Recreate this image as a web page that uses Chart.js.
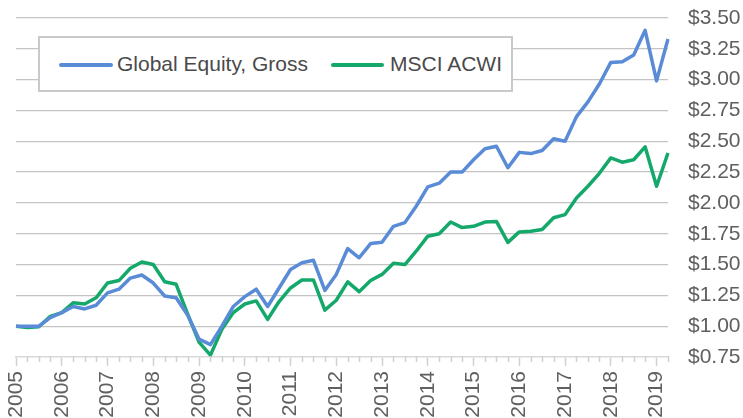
<!DOCTYPE html>
<html>
<head>
<meta charset="utf-8">
<script src="https://cdn.jsdelivr.net/npm/chart.js@4.4.1/dist/chart.umd.min.js"></script>
<style>
  html, body { margin: 0; padding: 0; background: #ffffff; }
  #wrap { position: relative; width: 743px; height: 418px; overflow: hidden; }
  canvas { display: block; }
  #legend {
    position: absolute; left: 38px; top: 36px; width: 471px; height: 52px;
    border: 2px solid #c9c9c9; background: #ffffff; box-sizing: content-box;
    font-family: "Liberation Sans", Arial, sans-serif; font-size: 21px; color: #4a4a4a;
  }
  .item { position: absolute; top: 0; height: 52px; line-height: 52px; white-space: nowrap; }
  .swatch { position: absolute; top: 25px; height: 4px; border-radius: 2px; }
</style>
</head>
<body>
<div id="wrap">
  <canvas id="c" width="743" height="418"></canvas>
  <div id="legend">
    <span class="swatch" id="sw0" style="left:19px;width:54px;"></span>
    <span class="item" id="lb0" style="left:77px;"></span>
    <span class="swatch" id="sw1" style="left:291px;width:53px;"></span>
    <span class="item" id="lb1" style="left:350px;"></span>
  </div>
</div>
<script>
// ---- data ----
const quarters = [
  "Q1 2005","Q2 2005","Q3 2005","Q4 2005",
  "Q1 2006","Q2 2006","Q3 2006","Q4 2006",
  "Q1 2007","Q2 2007","Q3 2007","Q4 2007",
  "Q1 2008","Q2 2008","Q3 2008","Q4 2008",
  "Q1 2009","Q2 2009","Q3 2009","Q4 2009",
  "Q1 2010","Q2 2010","Q3 2010","Q4 2010",
  "Q1 2011","Q2 2011","Q3 2011","Q4 2011",
  "Q1 2012","Q2 2012","Q3 2012","Q4 2012",
  "Q1 2013","Q2 2013","Q3 2013","Q4 2013",
  "Q1 2014","Q2 2014","Q3 2014","Q4 2014",
  "Q1 2015","Q2 2015","Q3 2015","Q4 2015",
  "Q1 2016","Q2 2016","Q3 2016","Q4 2016",
  "Q1 2017","Q2 2017","Q3 2017","Q4 2017",
  "Q1 2018","Q2 2018","Q3 2018","Q4 2018",
  "Q1 2019","Q2 2019"
];
const yearLabels = ["2005","2006","2007","2008","2009","2010","2011","2012","2013","2014","2015","2016","2017","2018","2019"];
const seriesNames = ["Global Equity, Gross", "MSCI ACWI"];
const globalEquityGross = [
  1.00, 1.00, 1.00, 1.07, 1.11, 1.16, 1.14, 1.17,
  1.27, 1.30, 1.39, 1.415, 1.35, 1.245, 1.23, 1.09,
  0.895, 0.85, 1.00, 1.16, 1.24, 1.30, 1.16, 1.31,
  1.46, 1.515, 1.535, 1.29, 1.42, 1.63, 1.555, 1.67,
  1.68, 1.81, 1.84, 1.975, 2.13, 2.16, 2.25, 2.25,
  2.35, 2.44, 2.46, 2.285, 2.41, 2.40, 2.425, 2.52,
  2.50, 2.70, 2.82, 2.965, 3.14, 3.145, 3.20, 3.40,
  2.99, 3.33
];
const msciAcwi = [
  1.00, 0.99, 0.995, 1.08, 1.11, 1.19, 1.18, 1.23,
  1.35, 1.37, 1.47, 1.52, 1.50, 1.36, 1.34, 1.10,
  0.87, 0.765, 0.975, 1.11, 1.18, 1.205, 1.055, 1.20,
  1.31, 1.375, 1.375, 1.13, 1.21, 1.36, 1.28, 1.37,
  1.42, 1.51, 1.50, 1.61, 1.73, 1.75, 1.845, 1.80,
  1.81, 1.845, 1.85, 1.68, 1.765, 1.77, 1.785, 1.88,
  1.905, 2.04, 2.135, 2.24, 2.365, 2.33, 2.35, 2.455,
  2.135, 2.405
];
const yTickValues = [0.75, 1.00, 1.25, 1.50, 1.75, 2.00, 2.25, 2.50, 2.75, 3.00, 3.25, 3.50];

// ---- style ----
const colors = ["#5a8bd6", "#14a86b"];
const FONT = "'Liberation Sans', Arial, sans-serif";

document.getElementById("lb0").textContent = seriesNames[0];
document.getElementById("lb1").textContent = seriesNames[1];
document.getElementById("sw0").style.background = colors[0];
document.getElementById("sw1").style.background = colors[1];

const minorTicks = {
  id: "minorTicks",
  afterDraw(chart) {
    const xs = chart.scales.x;
    const ctx = chart.ctx;
    const yb = chart.chartArea.bottom;
    ctx.save();
    ctx.strokeStyle = "#d0d0d0";
    ctx.lineWidth = 1.5;
    for (let i = 0; i < quarters.length; i++) {
      if (i % 4 === 0) continue;
      const px = Math.round(xs.getPixelForValue(i)) + 0.5;
      ctx.beginPath();
      ctx.moveTo(px, yb - 1);
      ctx.lineTo(px, yb + 5);
      ctx.stroke();
    }
    ctx.restore();
  }
};

new Chart(document.getElementById("c"), {
  type: "line",
  data: {
    labels: quarters,
    datasets: [
      { label: seriesNames[0], data: globalEquityGross, borderColor: colors[0], backgroundColor: colors[0],
        borderWidth: 3.5, pointRadius: 0, tension: 0, fill: false, borderJoinStyle: "round" },
      { label: seriesNames[1], data: msciAcwi, borderColor: colors[1], backgroundColor: colors[1],
        borderWidth: 3.5, pointRadius: 0, tension: 0, fill: false, borderJoinStyle: "round" }
    ]
  },
  options: {
    responsive: false,
    animation: false,
    devicePixelRatio: 1,
    layout: { padding: { left: 16, top: 18, right: 0, bottom: 0 } },
    plugins: { legend: { display: false }, tooltip: { enabled: false } },
    scales: {
      x: {
        type: "category",
        offset: false,
        afterFit: (axis) => { axis.height = 61; axis.paddingLeft = 0; axis.paddingRight = 0; },
        grid: {
          drawOnChartArea: false, drawTicks: true, tickLength: 9,
          tickWidth: 1.5,
          tickColor: (c) => (c.index % 4 === 0 ? "#d0d0d0" : "rgba(0,0,0,0)")
        },
        border: { display: true, color: "#d9d9d9", width: 1.5 },
        ticks: {
          autoSkip: false, maxRotation: 90, minRotation: 90, padding: 5,
          color: "#606060", font: { family: FONT, size: 21 },
          callback: (v, i) => (i % 4 === 0 ? yearLabels[i / 4] : "")
        }
      },
      y: {
        position: "right",
        min: 0.75, max: 3.5,
        afterBuildTicks: (axis) => { axis.ticks = yTickValues.map(v => ({ value: v })); },
        afterFit: (axis) => { axis.width = 75; axis.paddingTop = 0; axis.paddingBottom = 0; },
        grid: {
          drawTicks: false, lineWidth: 1.2,
          color: (c) => (c.tick && c.tick.value === 0.75 ? "rgba(0,0,0,0)" : "#c4c4c4")
        },
        border: { display: false },
        ticks: {
          padding: 20, color: "#606060", font: { family: FONT, size: 21 },
          callback: (v) => "$" + Number(v).toFixed(2)
        }
      }
    }
  },
  plugins: [minorTicks]
});
</script>
</body>
</html>
